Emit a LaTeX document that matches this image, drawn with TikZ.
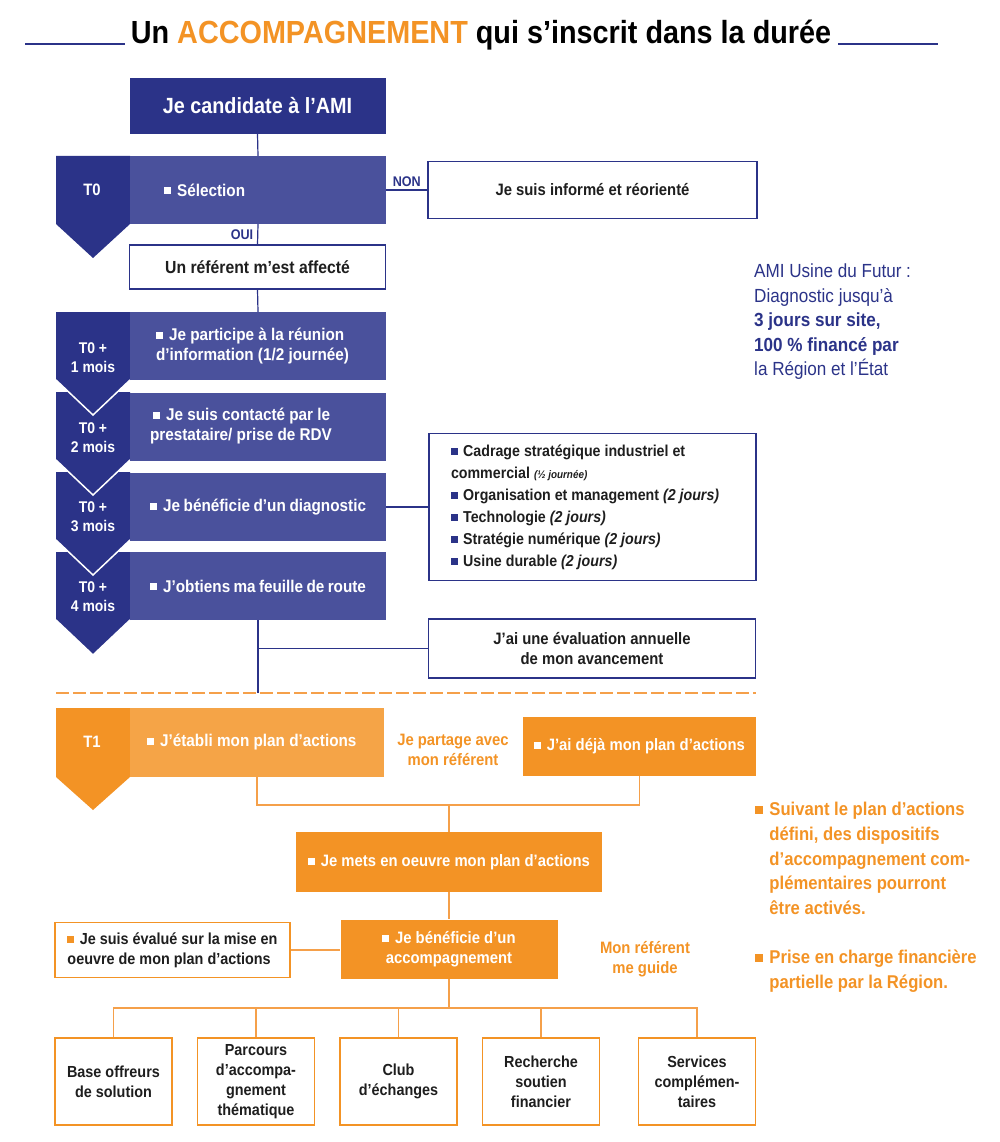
\documentclass[tikz,border=0pt]{standalone}
\usepackage{fontspec}
\setmainfont{Liberation Sans}[FakeStretch=0.9]
\usetikzlibrary{positioning}

\definecolor{amiblue}{HTML}{2B3388}
\definecolor{amimid}{HTML}{4A519C}
\definecolor{amiorange}{HTML}{F39325}
\definecolor{amilight}{HTML}{F5A447}
\definecolor{amiline}{HTML}{F5A04A}
\definecolor{textblack}{HTML}{1E1E1E}

\newcommand{\fs}[2]{\fontsize{#1}{#2}\selectfont}
\newcommand{\sq}{\rule[0.1em]{0.42em}{0.42em}\hspace{0.35em}}

\tikzset{
  every node/.style={inner sep=0pt, font=\bfseries,
    execute at begin node={\spaceskip=0pt\xspaceskip=0pt}},
  bluebox/.style={fill=amiblue, text=white, font=\fs{22}{25}\bfseries},
  stepbox/.style={fill=amimid, text=white, text width=216pt, inner xsep=20pt,
    align=left, minimum height=68pt, font=\fs{17}{20}\bfseries},
  whitebox/.style={draw=amiblue, line width=1.2pt, fill=white, text=textblack,
    align=center, font=\fs{16.5}{20}\bfseries},
  taglabel/.style={text=white, align=center, font=\fs{15.5}{19}\bfseries},
  blueline/.style={draw=amiblue, line width=1.2pt},
  orangebox/.style={fill=amiorange, text=white, align=center, font=\fs{16.5}{20}\bfseries},
  ownbox/.style={draw=amiorange, line width=1.5pt, fill=white, text=textblack,
    align=center, font=\fs{16}{20}\bfseries},
  orangeline/.style={draw=amiline, line width=1.5pt},
  orangetext/.style={text=amiorange, align=center, font=\fs{16.5}{20}\bfseries}
}

\begin{document}
\begin{tikzpicture}[x=1pt,y=-1pt]
\useasboundingbox (0,0) rectangle (1000,1142);

% titre
\node[font=\fs{32}{36}\bfseries, anchor=base] (title) at (481,44)
  {Un {\color{amiorange}ACCOMPAGNEMENT} qui s'inscrit dans la durée};
\draw[amiblue, line width=2pt] (25,44) -- (125,44) (838,44) -- (938,44);

% onglets T0 (du bas vers le haut pour les chevrons)
\foreach \top in {552,472,392,312} {
  \fill[amiblue] (56,\top) -- (130,\top) -- (130,\top+68) -- (93,\top+103) -- (56,\top+68) -- cycle;
  \draw[white, line width=1.5pt] (56,\top+68) -- (93,\top+103) -- (130,\top+68);
}
\fill[amiblue] (56,156) -- (130,156) -- (130,224) -- (93,258) -- (56,224) -- cycle;
\fill[amiorange] (56,708) -- (130,708) -- (130,777) -- (93,810) -- (56,777) -- cycle;

\node[taglabel, font=\fs{16.5}{19}\bfseries] (t0) at (92,190) {T0};
\node[taglabel] (t1m) at (93,358) {T0 +\\1 mois};
\node[taglabel] (t2m) at (93,438) {T0 +\\2 mois};
\node[taglabel] (t3m) at (93,517) {T0 +\\3 mois};
\node[taglabel] (t4m) at (93,597) {T0 +\\4 mois};
\node[taglabel, font=\fs{16.5}{19}\bfseries] (t1) at (92,742) {T1};

% phase bleue
\node[bluebox, minimum width=256pt, minimum height=56pt] (cand) at (257.5,106) {Je candidate à l'AMI};
\node[stepbox] (sel) at (258,190) {\hspace*{14pt}\sq Sélection};
\node[whitebox, minimum width=329pt, minimum height=57pt] (info) at (592.5,190) {Je suis informé et réorienté};
\node[whitebox, font=\fs{17.5}{20}\bfseries, minimum width=256pt, minimum height=44pt] (ref) at (257.5,267) {Un référent m'est affecté};
\node[stepbox] (part) at (258,346) {\hspace*{6pt}\sq Je participe à la réunion\\\hspace*{6pt}d'information (1/2 journée)};
\node[stepbox] (cont) at (258,426.5) {\hspace*{3pt}\sq Je suis contacté par le\\prestataire/ prise de RDV};
\node[stepbox] (diag) at (258,507) {\sq Je bénéficie d'un diagnostic};
\node[stepbox] (feuil) at (258,586) {\sq J'obtiens ma feuille de route};

\node[draw=amiblue, line width=1.2pt, text=textblack, text width=283pt, inner xsep=22pt,
  minimum height=147pt, align=left, font=\fs{15.8}{22}\bfseries] (list) at (592.5,507)
  {{\color{amiblue}\sq}Cadrage stratégique industriel et\\
   commercial {\itshape\fs{11}{22}(½ journée)}\\
   {\color{amiblue}\sq}Organisation et management \textit{(2 jours)}\\
   {\color{amiblue}\sq}Technologie \textit{(2 jours)}\\
   {\color{amiblue}\sq}Stratégie numérique \textit{(2 jours)}\\
   {\color{amiblue}\sq}Usine durable \textit{(2 jours)}};
\node[whitebox, minimum width=327pt, minimum height=59pt] (eval) at (592,648.5)
  {J'ai une évaluation annuelle\\de mon avancement};

\node[anchor=north west, text=amiblue, align=left, font=\fs{19}{24.5}\bfseries] (amitxt) at (754,264)
  {{\mdseries AMI Usine du Futur :}\\
   {\mdseries Diagnostic jusqu'à}\\
   3 jours sur site,\\
   100 \% financé par\\
   {\mdseries la Région et l'État}};

\draw[blueline] (cand.south) -- (sel.north);
\draw[blueline] (sel.east) -- node[above=3pt, text=amiblue, font=\fs{14}{15}\bfseries] (non) {NON} (info.west);
\draw[blueline] (sel.south) -- node[left=4pt, text=amiblue, font=\fs{14}{15}\bfseries] (oui) {OUI} (ref.north);
\draw[blueline] (ref.south) -- (part.north);
\draw[blueline] (diag.east) -- (list.west);
\coordinate (cut) at (258,693);
\draw[blueline] (feuil.south) -- (cut);
\draw[blueline] (feuil.south |- eval.west) -- (eval.west);

% separation
\draw[amiline, line width=1.5pt, dash pattern=on 13pt off 4pt] (56,693) -- (756,693);

% phase orange
\node[fill=amilight, text=white, text width=220pt, inner xsep=17pt, align=left,
  minimum height=69pt, font=\fs{17}{20}\bfseries] (etab) at (257,742.5) {\sq J'établi mon plan d'actions};
\node[orangebox, minimum width=233pt, minimum height=59pt] (deja) at (639.5,746.5) {\sq J'ai déjà mon plan d'actions};
\node[orangetext] (partage) at (453,750) {Je partage avec\\mon référent};

\node[orangebox, minimum width=306pt, minimum height=60pt] (mets) at (449,862) {\sq Je mets en oeuvre mon plan d'actions};
\node[orangebox, minimum width=217pt, minimum height=59pt] (benef) at (449,949) {\sq Je bénéficie d'un\\accompagnement};
\node[ownbox, minimum width=235pt, minimum height=55pt, align=left] (evalue) at (172.5,950)
  {{\color{amiorange}\sq}Je suis évalué sur la mise en\\oeuvre de mon plan d'actions};
\node[orangetext] (guide) at (645,959) {Mon référent\\me guide};

\node[anchor=north west, text=amiorange, align=left, font=\fs{18.5}{24.7}\bfseries] (suite) at (755,802)
  {\sq Suivant le plan d'actions\\
   \hspace*{0.77em}défini, des dispositifs\\
   \hspace*{0.77em}d'accompagnement com-\\
   \hspace*{0.77em}plémentaires pourront\\
   \hspace*{0.77em}être activés.\\[24.7pt]
   \sq Prise en charge financière\\
   \hspace*{0.77em}partielle par la Région.};

\coordinate (join) at (449,805);
\draw[orangeline] (etab.south) |- (join) -| (deja.south);
\draw[orangeline] (join) -- (mets.north);
\draw[orangeline] (mets.south) -- (benef.north);
\draw[orangeline] (evalue.east) -- (evalue.east -| benef.west);

% dispositifs
\foreach \n/\x/\txt in {1/113.5/{Base offreurs\\de solution},
    2/256/{Parcours\\d'accompa-\\gnement\\thématique},
    3/398.5/{Club\\d'échanges},
    4/541/{Recherche\\soutien\\financier},
    5/697/{Services\\complémen-\\taires}}
  \node[ownbox, font=\fs{16}{20}\bfseries, minimum width=117pt, minimum height=87pt] (b\n) at (\x,1081.5) {\txt};

\coordinate (hub) at (449,1008);
\draw[orangeline] (benef.south) -- (hub);
\draw[orangeline] (b1.north) |- (hub) -| (b5.north);
\foreach \n in {2,3,4}
  \draw[orangeline] (b\n.north) -- (b\n.north |- hub);
\end{tikzpicture}
\end{document}
